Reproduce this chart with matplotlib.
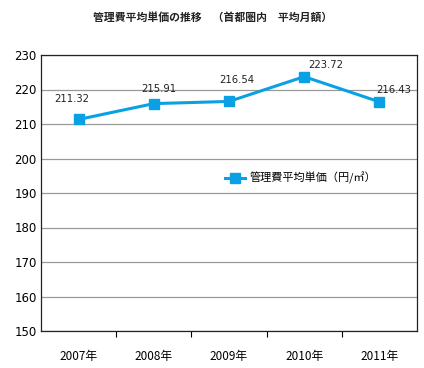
import matplotlib
matplotlib.use("Agg")
import matplotlib.pyplot as plt
from matplotlib.ticker import FixedLocator

plt.rcParams['font.family'] = ['Noto Sans CJK JP', 'DejaVu Sans']

years = ["2007年", "2008年", "2009年", "2010年", "2011年"]
values = [211.32, 215.91, 216.54, 223.72, 216.43]
labels = ["211.32", "215.91", "216.54", "223.72", "216.43"]
series_name = "管理費平均単価（円/㎡）"
title = "管理費平均単価の推移　（首都圏内　平均月額）"
yticks = [150, 160, 170, 180, 190, 200, 210, 220, 230]

label_offsets = [(-7, 20), (5, 15), (8, 21), (22, 12), (14, 12)]

color = "#0aa0e4"

fig = plt.figure(figsize=(4.24, 3.68), dpi=100)
ax = fig.add_axes([41/424, 1-331/368, (417-41)/424, (331-55)/368])

x = list(range(len(years)))
ax.plot(x, values, color=color, lw=2.2, marker='s', markersize=7.5,
        markerfacecolor=color, markeredgecolor=color, label=series_name, zorder=3)

for xi, v, lab, off in zip(x, values, labels, label_offsets):
    ax.annotate(lab, (xi, v), xytext=off, textcoords='offset pixels',
                ha='center', va='center', fontsize=7.2, color='#222222',
                family=['DejaVu Sans'])

ax.set_xlim(-0.5, len(years) - 0.5)
ax.set_ylim(150, 230)
ax.set_yticks(yticks)
ax.set_yticklabels([str(t) for t in yticks], fontsize=8.5, family=['DejaVu Sans'])
ax.tick_params(axis='y', length=0, pad=3)
ax.grid(axis='y', color='#999999', lw=0.9)
ax.set_axisbelow(True)

ax.set_xticks(x)
ax.set_xticklabels(years, fontsize=8.5)
ax.tick_params(axis='x', which='major', length=0, pad=14)
ax.xaxis.set_minor_locator(FixedLocator([i + 0.5 for i in range(len(years) - 1)]))
ax.tick_params(axis='x', which='minor', length=4, width=0.8, direction='out')

for s in ax.spines.values():
    s.set_color('#222222')
    s.set_linewidth(0.9)

leg = ax.legend(loc='center left', bbox_to_anchor=(0.49, 0.554), frameon=False,
                fontsize=8.0, handlelength=1.8, handletextpad=0.4, borderaxespad=0,
                borderpad=0)

fig.text(213/424, 1-17/368, title, ha='center', va='center', fontsize=7.8,
         fontweight='bold', color='#222222')

fig.savefig("out.png", dpi=100, facecolor='white')
